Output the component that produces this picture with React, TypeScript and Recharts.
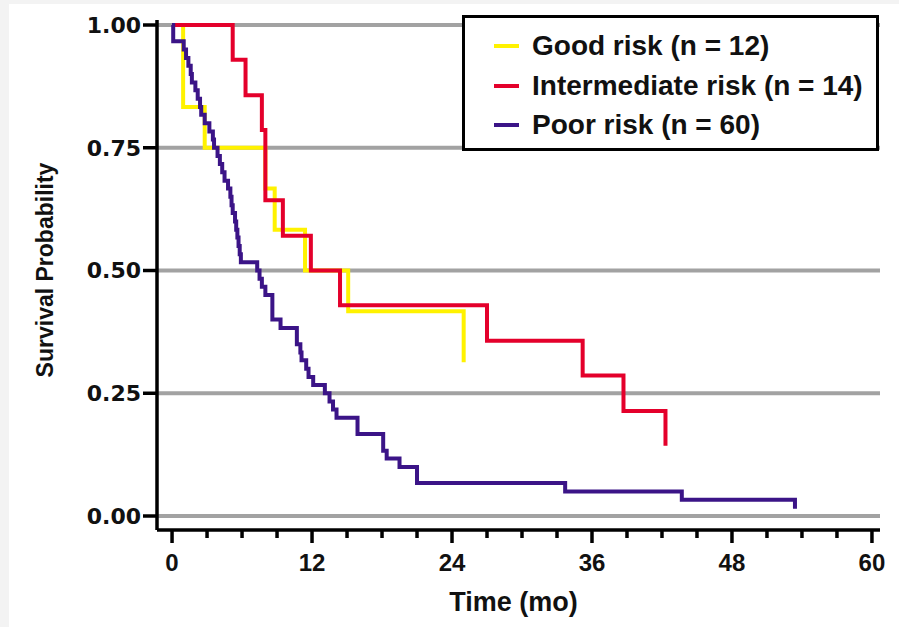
import { LineChart, Line, XAxis, YAxis, ReferenceLine, Legend } from 'recharts';

// months / survival
const goodTimes = [0, 0.95, 2.8, 8.0, 8.8, 11.4, 15.1, 25.0];
const goodSurv = [1, 0.833, 0.75, 0.667, 0.583, 0.5, 0.417, 0.313];

const interTimes = [0, 5.2, 6.3, 7.7, 8.0, 9.5, 11.9, 14.4, 27.0, 35.2, 38.7, 42.3];
const interSurv = [1, 0.929, 0.857, 0.786, 0.643, 0.571, 0.5, 0.429, 0.357, 0.286, 0.214, 0.143];

const poorTimes = [
  0, 0.1, 1.0, 1.2, 1.4, 1.6, 1.7, 2.0, 2.2, 2.4, 2.5, 2.8, 3.2, 3.5, 3.6, 3.9, 4.1, 4.3, 4.5, 4.8,
  5.0, 5.1, 5.2, 5.4, 5.5, 5.6, 5.7, 5.8, 5.9, 7.3, 7.5, 7.7, 8.0, 8.6, 9.3, 10.7, 11.0, 11.1, 11.5,
  11.7, 12.1, 13.1, 13.5, 13.8, 14.1, 15.9, 18.1, 18.4, 19.5, 21.0, 33.7, 43.7, 53.4,
];
const poorSurv = [
  1, 0.967, 0.95, 0.933, 0.917, 0.9, 0.883, 0.867, 0.85, 0.833, 0.817, 0.8, 0.783, 0.767, 0.75, 0.733,
  0.717, 0.7, 0.683, 0.667, 0.65, 0.633, 0.617, 0.6, 0.583, 0.567, 0.55, 0.533, 0.517, 0.5, 0.483, 0.467,
  0.45, 0.4, 0.383, 0.35, 0.333, 0.317, 0.3, 0.283, 0.267, 0.25, 0.233, 0.217, 0.2, 0.167, 0.133, 0.117,
  0.1, 0.067, 0.05, 0.033, 0.015,
];

const xTicks = [0, 3, 6, 9, 12, 15, 18, 21, 24, 27, 30, 33, 36, 39, 42, 45, 48, 51, 54, 57, 60];
const yTicks = [0, 0.25, 0.5, 0.75, 1];

const series = [
  { name: 'Good risk (n = 12)', color: '#fff200', times: goodTimes, surv: goodSurv },
  { name: 'Intermediate risk (n = 14)', color: '#e4002b', times: interTimes, surv: interSurv },
  { name: 'Poor risk (n = 60)', color: '#3b1487', times: poorTimes, surv: poorSurv },
];

const toRows = (times: number[], surv: number[]) => times.map((t, i) => ({ t, s: surv[i] }));

const FONT = '"Liberation Sans", Arial, Helvetica, sans-serif';
const WIDE = '"DejaVu Sans", Verdana, sans-serif';

function TimeTick({ x, y, payload }: any) {
  const major = payload.value % 12 === 0;
  return (
    <g>
      <line x1={x} y1={y} x2={x} y2={y + (major ? 13 : 8)} stroke="#000" strokeWidth={3.5} />
      {major && (
        <text x={x} y={y + 41} textAnchor="middle" fontFamily={FONT} fontWeight="bold" fontSize={24} fill="#111">
          {payload.value}
        </text>
      )}
    </g>
  );
}

function renderLegend() {
  return (
    <div
      style={{
        position: 'relative',
        width: 411,
        height: 130,
        border: '3.5px solid #000',
        background: '#fff',
        fontFamily: FONT,
        fontWeight: 'bold',
        fontSize: 28,
        lineHeight: '32px',
        color: '#111',
        boxSizing: 'content-box',
      }}
    >
      {series.map((s, i) => (
        <div key={s.name} style={{ position: 'absolute', top: 12 + i * 39.5, left: 29, display: 'flex', alignItems: 'center', whiteSpace: 'nowrap' }}>
          <div style={{ width: 25, height: 4, background: s.color, marginRight: 13 }} />
          <span>{s.name}</span>
        </div>
      ))}
    </div>
  );
}

export default function App() {
  return (
    <div style={{ position: 'relative', width: 899, height: 627, background: '#f3f3f3' }}>
      <style>{'body{margin:0}'}</style>
      <div style={{ position: 'absolute', left: 9, top: 4, right: 0, bottom: 0, background: '#fff' }} />
      <div style={{ position: 'absolute', left: 0, top: 0 }}>
        <LineChart width={899} height={627} margin={{ top: 20, right: 19, bottom: 47, left: 97 }}>
          <XAxis
            type="number"
            dataKey="t"
            domain={[-1.29, 60.69]}
            ticks={xTicks}
            allowDataOverflow
            interval={0}
            height={50}
            axisLine={{ stroke: '#000', strokeWidth: 3.5 }}
            tickLine={false}
            tickSize={0}
            tickMargin={0}
            tick={<TimeTick />}
            label={{
              content: ({ viewBox }: any) => (
                <text
                  x={viewBox.x + viewBox.width / 2 - 5}
                  y={viewBox.y + 81}
                  textAnchor="middle"
                  fontFamily={FONT}
                  fontWeight="bold"
                  fontSize={27}
                  fill="#111"
                >
                  Time (mo)
                </text>
              ),
            }}
          />
          <YAxis
            type="number"
            domain={[-0.0285, 1.0102]}
            ticks={yTicks}
            allowDataOverflow
            width={60}
            axisLine={{ stroke: '#000', strokeWidth: 3.5 }}
            tickLine={{ stroke: '#000', strokeWidth: 3.5 }}
            tickSize={14}
            tickMargin={2}
            tickFormatter={(v: number) => v.toFixed(2)}
            tick={{ fill: '#111', fontFamily: WIDE, fontWeight: 'bold', fontSize: 22 }}
            label={{
              content: ({ viewBox }: any) => {
                const cx = viewBox.x - 52;
                const cy = viewBox.y + viewBox.height / 2 - 5;
                return (
                  <text
                    x={cx}
                    y={cy}
                    transform={`rotate(-90 ${cx} ${cy})`}
                    textAnchor="middle"
                    dominantBaseline="central"
                    fontFamily={FONT}
                    fontWeight="bold"
                    fontSize={23}
                    fill="#111"
                  >
                    Survival Probability
                  </text>
                );
              },
            }}
          />
          {yTicks.map((v) => (
            <ReferenceLine key={v} y={v} stroke="#a2a2a2" strokeWidth={4} />
          ))}
          {series.map((s) => (
            <Line
              key={s.name}
              name={s.name}
              data={toRows(s.times, s.surv)}
              dataKey="s"
              type="stepAfter"
              stroke={s.color}
              strokeWidth={4}
              dot={false}
              activeDot={false}
              isAnimationActive={false}
            />
          ))}
          <Legend
            layout="horizontal"
            verticalAlign="middle"
            align="center"
            content={renderLegend}
            wrapperStyle={{ top: 15, left: 462, width: 'auto', position: 'absolute' }}
          />
        </LineChart>
      </div>
    </div>
  );
}
